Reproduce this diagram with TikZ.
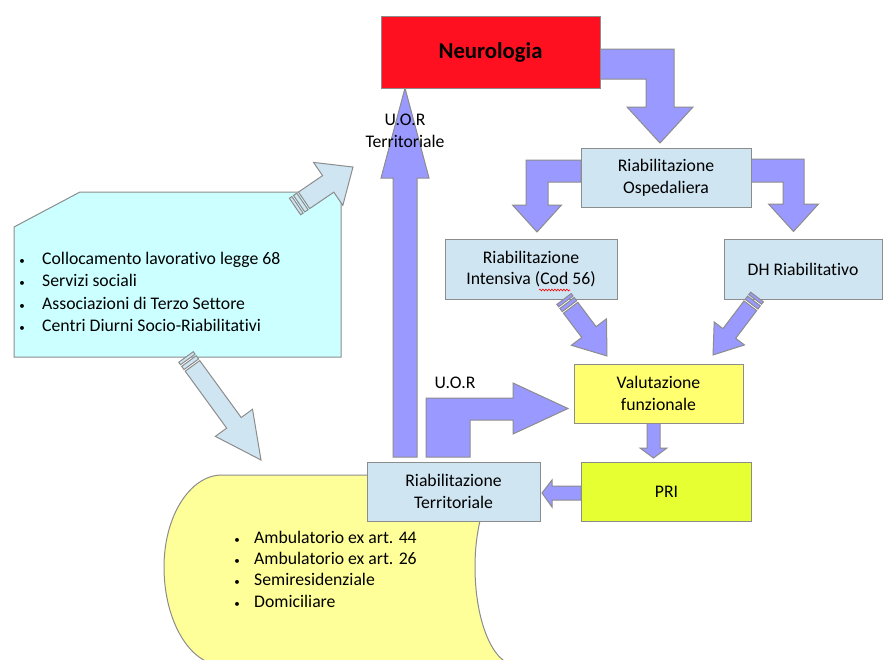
\documentclass[tikz,border=0pt]{standalone}
\usepackage{fontspec}
\setmainfont{Carlito}[Ligatures=NoCommon]
\usetikzlibrary{decorations.pathmorphing}
\definecolor{bord}{HTML}{8C8C8C}
\definecolor{neuro}{HTML}{FF1020}
\definecolor{lblue}{HTML}{D0E5F2}
\definecolor{valy}{HTML}{FFFF70}
\definecolor{priy}{HTML}{E5FF33}
\definecolor{scrolly}{HTML}{FFFF99}
\definecolor{cyanb}{HTML}{CCFFFF}
\definecolor{purp}{HTML}{9999FF}
\tikzset{
  box/.style={draw=bord, line width=1pt, inner sep=0pt, align=center,
    font=\fontsize{17.7}{21.7}\selectfont},
  blockarrow/.style={draw=bord, line width=1pt, fill=purp},
  lightarrow/.style={draw=bord, line width=1pt, fill=lblue},
  lbl/.style={font=\fontsize{17.7}{22}\selectfont, inner sep=0pt, align=center},
  listnode/.style={anchor=west, inner sep=0pt},
}
\newcommand\blt[1]{\makebox[#1]{\fontsize{11}{11}\selectfont\textbullet}}
\newcommand\stripedarrow[6]{%
  \pgfpointanchor{#1}{center}\pgfgetlastxy\sax\say
  \pgfpointanchor{#2}{center}\pgfgetlastxy\sbx\sby
  \pgfmathsetmacro\sang{atan2((\sby)-(\say),(\sbx)-(\sax))}%
  \pgfmathsetmacro\slen{veclen((\sbx)-(\sax),(\sby)-(\say))}%
  \pgfmathsetmacro\sneck{\slen-#5}%
  \begin{scope}[shift={(#1)}, rotate=\sang, x=1pt, y=1pt]
    \draw[#6] (0,-#3/2) rectangle (3,#3/2);
    \draw[#6] (5,-#3/2) rectangle (9,#3/2);
    \draw[#6] (11,-#3/2) -- (\sneck,-#3/2) -- (\sneck,-#4/2) -- (\slen,0)
      -- (\sneck,#4/2) -- (\sneck,#3/2) -- (11,#3/2) -- cycle;
  \end{scope}}
\begin{document}
\begin{tikzpicture}[x=1pt,y=-1pt]
\useasboundingbox (0,0) rectangle (884,659);

% scroll shape (territorial services)
\draw[draw=bord, line width=1pt, fill=scrolly]
  (512,475) -- (222,475)
  .. controls (190,475) and (164,516.2) .. (164,567)
  .. controls (164,621) and (190,665) .. (222,665)
  -- (516,665)
  .. controls (493,665) and (475,621) .. (475,567)
  .. controls (475,516.2) and (491.6,475) .. (512,475) -- cycle;
\node[listnode] (list2) at (220,571) {\fontsize{17.7}{21.3}\selectfont
  \begin{tabular}{@{}c@{}l@{}}
  \blt{34pt} & Ambulatorio ex art. 44\\
  \blt{34pt} & Ambulatorio ex art. 26\\
  \blt{34pt} & Semiresidenziale\\
  \blt{34pt} & Domiciliare
  \end{tabular}};

% cyan box with snipped corner
\draw[draw=bord, line width=1pt, fill=cyanb]
  (14,227) -- (80,192) -- (341,192) -- (341,357) -- (14,357) -- cycle;
\node[listnode] (list1) at (2,293.5) {\fontsize{17.7}{22.3}\selectfont
  \begin{tabular}{@{}c@{}l@{}}
  \blt{40pt} & Collocamento lavorativo legge 68\\
  \blt{40pt} & Servizi sociali\\
  \blt{40pt} & Associazioni di Terzo Settore\\
  \blt{40pt} & Centri Diurni Socio-Riabilitativi
  \end{tabular}};

% block arrows
\draw[blockarrow] (393,457) -- (393,178) -- (381,178) -- (405,88) -- (429,178)
  -- (417,178) -- (417,457) -- cycle;
\draw[blockarrow] (426,457) -- (426,398) -- (513,398) -- (513,383) -- (568,408.5)
  -- (513,434) -- (513,420) -- (470,420) -- (470,457) -- cycle;
\draw[blockarrow] (600,49) -- (674,49) -- (674,107) -- (693,107) -- (660,143)
  -- (627,107) -- (646,107) -- (646,79) -- (600,79) -- cycle;
\draw[blockarrow] (581,160) -- (526,160) -- (526,205) -- (512.5,205) -- (537,232)
  -- (561.5,205) -- (548,205) -- (548,182) -- (581,182) -- cycle;
\draw[blockarrow] (751,159) -- (804,159) -- (804,204) -- (818.5,204) -- (793.5,231.5)
  -- (768.5,204) -- (783,204) -- (783,182) -- (751,182) -- cycle;
\draw[blockarrow] (647,423) -- (647,448) -- (640,448) -- (653.5,458) -- (667,448)
  -- (660,448) -- (660,423) -- cycle;
\draw[blockarrow] (581,486) -- (552,486) -- (552,480) -- (542,493) -- (552,507)
  -- (552,500) -- (581,500) -- cycle;

% boxes
\node[box, fill=neuro, minimum width=219pt, minimum height=72pt,
  font=\fontsize{22.7}{26}\selectfont\bfseries] (neuro) at (490.5,52) {Neurologia};
\node[box, fill=lblue, minimum width=170pt, minimum height=59pt] (osp) at (666,177.5)
  {Riabilitazione\\Ospedaliera};
\node[box, fill=lblue, minimum width=172pt, minimum height=60pt] (int) at (531,269)
  {Riabilitazione\\Intensiva (Cod 56)};
\node[box, fill=lblue, minimum width=158pt, minimum height=60pt] (dh) at (803,269)
  {DH Riabilitativo};
\node[box, fill=valy, minimum width=169pt, minimum height=59pt] (val) at (658.5,393.5)
  {Valutazione\\funzionale};
\node[box, fill=priy, minimum width=170pt, minimum height=59pt] (pri) at (666.5,491.5)
  {PRI};
\node[box, fill=lblue, minimum width=173pt, minimum height=59pt] (terr) at (453.5,491.5)
  {Riabilitazione\\Territoriale};

% spell-check wave under "Cod"
\draw[red, line width=0.6pt, decorate,
  decoration={snake, amplitude=0.9pt, segment length=3pt}] (539,290) -- (570,290);

% labels
\node[lbl] (uort) at (405,131) {U.O.R\\Territoriale};
\node[lbl] (uor) at (455,383) {U.O.R};

% striped arrows
\coordinate (aT) at (295,206.5); \coordinate (aH) at (353,167);
\coordinate (bT) at (186,357);   \coordinate (bH) at (261,460);
\coordinate (cT) at (564,299);   \coordinate (cH) at (607,356);
\coordinate (dT) at (757,297);   \coordinate (dH) at (713,355);
\stripedarrow{aT}{aH}{20}{52}{30}{lightarrow}
\stripedarrow{bT}{bH}{18}{46}{46}{lightarrow}
\stripedarrow{cT}{cH}{18}{44}{30}{blockarrow}
\stripedarrow{dT}{dH}{16}{38}{27}{blockarrow}
\end{tikzpicture}
\end{document}
